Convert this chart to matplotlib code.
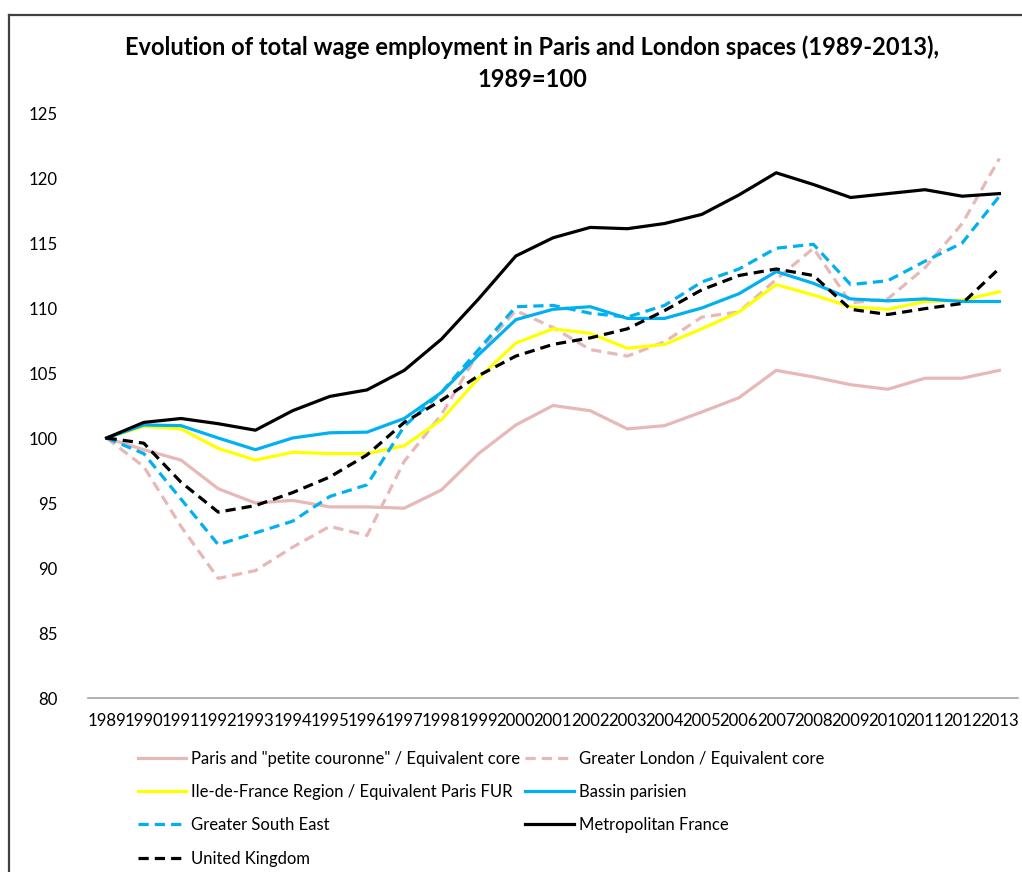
import matplotlib
matplotlib.use("Agg")
import matplotlib.pyplot as plt
from matplotlib.lines import Line2D

plt.rcParams['font.family'] = ['Lato', 'DejaVu Sans']

# data (index 1989 = 100)
years = [str(y) for y in range(1989, 2014)]

paris_core = [100, 99.1, 98.3, 96.1, 95.0, 95.2, 94.7, 94.7, 94.6, 96.0, 98.8, 101.0,
              102.5, 102.1, 100.7, 100.95, 102.0, 103.1, 105.2, 104.7, 104.1, 103.75,
              104.6, 104.6, 105.2]
greater_london = [100, 97.8, 93.2, 89.2, 89.8, 91.6, 93.2, 92.5, 98.2, 101.8, 106.6, 109.8,
                  108.5, 106.8, 106.3, 107.4, 109.3, 109.7, 112.2, 114.6, 110.4, 110.7,
                  113.1, 116.5, 121.5]
idf = [100, 100.9, 100.7, 99.2, 98.3, 98.9, 98.8, 98.8, 99.4, 101.4, 104.6, 107.3,
       108.4, 108.05, 106.9, 107.2, 108.4, 109.7, 111.8, 111.0, 110.1, 109.9,
       110.5, 110.6, 111.25]
bassin = [100, 101.0, 100.95, 100.0, 99.1, 100.0, 100.4, 100.45, 101.5, 103.5, 106.4, 109.1,
          109.9, 110.1, 109.2, 109.2, 110.0, 111.1, 112.8, 111.9, 110.7, 110.55,
          110.7, 110.5, 110.5]
gse = [100, 98.8, 95.3, 91.8, 92.7, 93.6, 95.5, 96.4, 100.9, 103.5, 106.8, 110.1,
       110.2, 109.6, 109.3, 110.2, 112.0, 113.0, 114.6, 114.9, 111.8, 112.1,
       113.6, 115.0, 118.6]
metro = [100, 101.2, 101.5, 101.1, 100.6, 102.1, 103.2, 103.7, 105.2, 107.6, 110.7, 114.0,
         115.4, 116.2, 116.1, 116.5, 117.2, 118.7, 120.4, 119.5, 118.5, 118.8,
         119.1, 118.6, 118.8]
uk = [100, 99.6, 96.6, 94.3, 94.8, 95.8, 97.0, 98.7, 101.2, 102.9, 104.8, 106.3,
      107.2, 107.7, 108.4, 109.8, 111.4, 112.5, 113.0, 112.5, 109.9, 109.5,
      109.95, 110.35, 113.05]

labels = ['Paris and "petite couronne" / Equivalent core',
          'Greater London / Equivalent core',
          'Ile-de-France Region / Equivalent Paris FUR',
          'Bassin parisien',
          'Greater South East',
          'Metropolitan France',
          'United Kingdom']

pink = '#E6B8B7'
yellow = '#FFFF00'
blue = '#00B0F0'
lw = 2.3
dash = (3.2, 1.9)

fig = plt.figure(figsize=(10.22, 8.72), dpi=100)
ax = fig.add_axes([88 / 1022, 1 - 698 / 872, 930 / 1022, 585 / 872])

x = list(range(len(years)))
series = [
    (paris_core, pink, '-'),
    (greater_london, pink, '--'),
    (idf, yellow, '-'),
    (bassin, blue, '-'),
    (gse, blue, '--'),
    (metro, 'black', '-'),
    (uk, 'black', '--'),
]
lines = []
for (vals, col, ls), lab in zip(series, labels):
    l, = ax.plot(x, vals, color=col, lw=lw, label=lab)
    if ls == '--':
        l.set_dashes(dash)
    lines.append(l)

ax.set_xlim(-0.5, len(years) - 0.5)
ax.set_ylim(80, 125)
ax.set_yticks(range(80, 126, 5))
ax.set_xticks(x)
ax.set_xticklabels(years)
for s in ['left', 'right', 'top']:
    ax.spines[s].set_visible(False)
ax.spines['bottom'].set_color('#A6A6A6')
ax.spines['bottom'].set_linewidth(1.2)
ax.tick_params(axis='both', length=0, labelsize=12.1, colors='black')
ax.tick_params(axis='y', pad=22)
ax.tick_params(axis='x', pad=11)

fig.text(532 / 1022, 1 - 63 / 872,
         'Evolution of total wage employment in Paris and London spaces (1989-2013),\n1989=100',
         ha='center', va='center', fontsize=17, fontweight='bold', linespacing=1.45)

# legend: column-major order to get the row layout of the original
order = [0, 2, 4, 6, 1, 3, 5]
leg = fig.legend([lines[i] for i in order], [labels[i] for i in order],
                 ncol=2, loc='upper left', bbox_to_anchor=(138 / 1022, 1 - 751 / 872),
                 frameon=False, fontsize=12, handlelength=2.9, handletextpad=0.3,
                 columnspacing=0.3, labelspacing=1.03, borderpad=0, borderaxespad=0)

# chart border (only top and left edges fall inside the image)
fig.add_artist(Line2D([9 / 1022, 1.0], [1 - 15 / 872, 1 - 15 / 872],
                      transform=fig.transFigure, color='#404040', lw=1.6))
fig.add_artist(Line2D([9 / 1022, 9 / 1022], [0, 1 - 15 / 872],
                      transform=fig.transFigure, color='#404040', lw=1.6))

fig.savefig('out.png', dpi=100)
